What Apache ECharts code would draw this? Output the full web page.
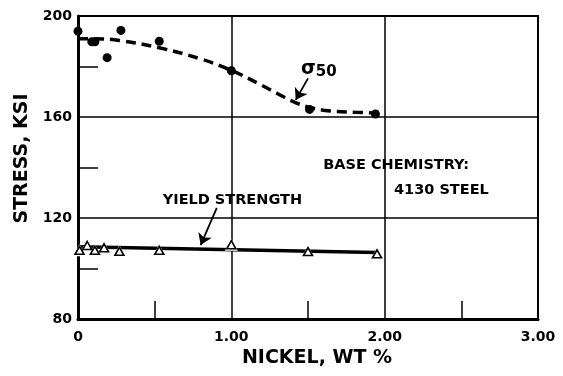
<!DOCTYPE html>
<html>
<head>
<meta charset="utf-8">
<script src="https://cdn.jsdelivr.net/npm/echarts@6/dist/echarts.min.js"></script>
<style>
  html, body { margin: 0; padding: 0; background: #fff; }
  #c { width: 563px; height: 376px; }
</style>
</head>
<body>
<div id="c"></div>
<script>
// Fatigue strength (sigma 50) measurements, nickel wt % vs stress ksi
const sigmaNickel = [0.00, 0.09, 0.11, 0.19, 0.28, 0.53, 1.00, 1.51, 1.94];
const sigmaStress = [194.0, 189.8, 189.8, 183.5, 194.3, 190.0, 178.3, 163.0, 161.2];

// Faired dashed trend through the sigma 50 points
const trendNickel = [0.00, 0.10, 0.27, 0.53, 0.80, 1.00, 1.20, 1.30, 1.40, 1.50, 1.60, 1.75, 1.95];
const trendStress = [191.0, 191.0, 190.3, 187.4, 183.0, 178.5, 172.5, 169.3, 166.2, 164.0, 162.7, 162.0, 161.6];

// Yield strength measurements
const yieldNickel = [0.01, 0.06, 0.11, 0.17, 0.27, 0.53, 1.00, 1.50, 1.95];
const yieldStress = [107.2, 109.1, 107.2, 108.2, 106.8, 107.2, 109.4, 106.7, 105.8];

// Straight fit of the yield strength
const yieldFitNickel = [0.00, 1.95];
const yieldFitStress = [108.6, 106.3];

// Axis ticks
const xTicks = [0, 1, 2, 3];
const xTickLabels = ['0', '1.00', '2.00', '3.00'];
const yTicks = [80, 120, 160, 200];

const FONT = 'DejaVu Sans';
const pair = (xs, ys) => xs.map((x, i) => [x, ys[i]]);

const arrowLine = {
  silent: true,
  symbol: ['none', 'arrow'],
  symbolSize: 11,
  label: { show: false },
  lineStyle: { color: '#000', width: 1.8, type: 'solid' }
};

const chart = echarts.init(document.getElementById('c'), null, { renderer: 'canvas' });

chart.setOption({
  animation: false,
  backgroundColor: '#fff',
  grid: {
    left: 78, right: 25, top: 16, bottom: 57,
    show: true, borderColor: '#000', borderWidth: 2
  },
  xAxis: {
    type: 'value',
    min: xTicks[0], max: xTicks[xTicks.length - 1], interval: 1,
    name: 'NICKEL, WT %',
    nameLocation: 'middle', nameGap: 28,
    nameTextStyle: { fontFamily: FONT, fontWeight: 'bold', fontSize: 19, color: '#000', padding: [0, 0, 0, 18] },
    axisLine: { show: true, lineStyle: { color: '#000', width: 3 } },
    axisTick: { show: true, inside: true, length: 0 },
    minorTick: { show: true, splitNumber: 2, length: 18, lineStyle: { color: '#000', width: 1.5 } },
    splitLine: { show: true, lineStyle: { color: '#000', width: 1.5 } },
    axisLabel: {
      margin: 11, fontFamily: FONT, fontWeight: 'bold', fontSize: 14, color: '#000',
      formatter: v => xTickLabels[xTicks.indexOf(v)] ?? ''
    }
  },
  yAxis: {
    type: 'value',
    min: yTicks[0], max: yTicks[yTicks.length - 1], interval: 40,
    name: 'STRESS, KSI',
    nameLocation: 'middle', nameGap: 42,
    nameTextStyle: { fontFamily: FONT, fontWeight: 'bold', fontSize: 19, color: '#000', padding: [0, 0, 0, 18] },
    axisLine: { show: true, lineStyle: { color: '#000', width: 3 } },
    axisTick: { show: true, inside: true, length: 0 },
    minorTick: { show: true, splitNumber: 2, length: 20, lineStyle: { color: '#000', width: 1.5 } },
    splitLine: { show: true, lineStyle: { color: '#000', width: 1.5 } },
    axisLabel: { margin: 6, fontFamily: FONT, fontWeight: 'bold', fontSize: 14, color: '#000' }
  },
  series: [
    {
      name: 'sigma50 trend',
      type: 'line',
      data: pair(trendNickel, trendStress),
      smooth: 0.4,
      showSymbol: false,
      lineStyle: { color: '#000', width: 3.5, type: [10, 6] },
      z: 3,
      markLine: Object.assign({}, arrowLine, {
        data: [[{ coord: [1.50, 175.3] }, { coord: [1.42, 166.8] }]]
      }),
      markPoint: {
        silent: true,
        symbol: 'circle', symbolSize: 0,
        label: {
          show: true, position: 'inside',
          formatter: '{s|σ}{n|50}',
          rich: {
            s: { fontFamily: FONT, fontWeight: 'bold', fontSize: 19, color: '#000' },
            n: { fontFamily: FONT, fontWeight: 'bold', fontSize: 15, color: '#000', padding: [7, 0, 0, 0] }
          }
        },
        data: [{ coord: [1.57, 179.0] }]
      }
    },
    {
      name: 'sigma50',
      type: 'scatter',
      data: pair(sigmaNickel, sigmaStress),
      symbol: 'circle', symbolSize: 9,
      itemStyle: { color: '#000', opacity: 1 },
      z: 4
    },
    {
      name: 'yield fit',
      type: 'line',
      data: pair(yieldFitNickel, yieldFitStress),
      showSymbol: false,
      lineStyle: { color: '#000', width: 3.5 },
      z: 3,
      markLine: Object.assign({}, arrowLine, {
        data: [[{ coord: [0.905, 124.0] }, { coord: [0.80, 109.3] }]]
      }),
      markPoint: {
        silent: true,
        symbol: 'circle', symbolSize: 0,
        label: {
          show: true, position: 'inside',
          formatter: (p) => p.name,
          fontFamily: FONT, fontWeight: 'bold', fontSize: 14.5, color: '#000'
        },
        data: [
          { name: 'YIELD STRENGTH', coord: [1.007, 126.9] },
          { name: 'BASE CHEMISTRY:', coord: [2.075, 141.0] },
          { name: '4130 STEEL', coord: [2.37, 131.1] }
        ]
      }
    },
    {
      // white halo that opens small gaps in the fit line around each triangle
      name: 'yield halo',
      type: 'scatter',
      data: pair(yieldNickel, yieldStress),
      symbol: 'triangle', symbolSize: [13, 12],
      itemStyle: { color: '#fff', opacity: 1 },
      silent: true,
      z: 4
    },
    {
      name: 'yield',
      type: 'scatter',
      data: pair(yieldNickel, yieldStress),
      symbol: 'triangle', symbolSize: [9, 8],
      itemStyle: { color: '#fff', borderColor: '#000', borderWidth: 1.6, opacity: 1 },
      z: 5
    }
  ]
});
</script>
</body>
</html>
